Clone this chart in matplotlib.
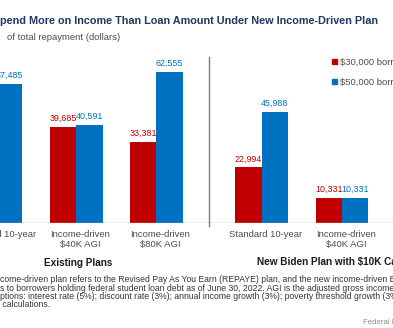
import numpy as np
import matplotlib.pyplot as plt
from matplotlib.patches import Patch

plt.rcParams['font.family'] = ['Liberation Sans', 'DejaVu Sans']

# values (dollars)
plans = ['Standard 10-year', 'Income-driven\n$40K AGI', 'Income-driven\n$80K AGI',
         'Standard 10-year', 'Income-driven\n$40K AGI']
pos = np.array([0, 1, 2, 3.317, 4.32])
borrower_30k = [34491, 39685, 33381, 22994, 10331]
borrower_50k = [57485, 40591, 62555, 45988, 10331]
series_names = ['$30,000 borrower', '$50,000 borrower']

red = '#c00000'
blue = '#0070c0'

W, H = 393, 328
fig = plt.figure(figsize=(W / 100, H / 100), dpi=100)

def fx(px):
    return px / W

def fy(py):
    return 1 - py / H

# axes fills the full width, baseline at y=223px
ax = fig.add_axes([0, fy(223), 1, (223 - 50) / H])
ax.set_xlim(0.0745, 4.956)
ax.set_ylim(0, 173 / 151 * 62555)

w = 0.33
b1 = ax.bar(pos - w / 2, borrower_30k, w, color=red, label=series_names[0])
b2 = ax.bar(pos + w / 2, borrower_50k, w, color=blue, label=series_names[1])
ax.bar_label(b1, fmt='{:,.0f}', padding=3, color=red, fontsize=6.4)
ax.bar_label(b2, fmt='{:,.0f}', padding=3, color=blue, fontsize=6.4)

ax.axhline(0, color='#a6a6a6', lw=1)
ax.axvline(2.658, ymin=-0.02, ymax=0.96, color='#7f7f7f', lw=1, clip_on=False)

for s in ax.spines.values():
    s.set_visible(False)
ax.set_yticks([])
ax.set_xticks(pos + 0.05)
ax.set_xticklabels(plans, fontsize=6.8, color='#4d4d4d')
ax.tick_params(axis='x', length=0, pad=5)

fig.text(fx(78), fy(263), 'Existing Plans', ha='center', va='center',
         fontsize=7.2, fontweight='bold', color='#1a1a1a')
fig.text(fx(257), fy(262), 'New Biden Plan with $10K Cancellation', ha='left', va='center',
         fontsize=7.2, fontweight='bold', color='#1a1a1a')

leg = fig.legend(handles=[Patch(color=red, label=series_names[0]),
                          Patch(color=blue, label=series_names[1])],
                 loc='upper left', bbox_to_anchor=(fx(328), fy(54)), frameon=False,
                 fontsize=6.8, handlelength=0.5, handleheight=0.5, handletextpad=0.4,
                 labelspacing=1.2, borderaxespad=0, labelcolor='#4d4d4d')

fig.text(0, fy(21), 'pend More on Income Than Loan Amount Under New Income-Driven Plan',
         ha='left', va='center', fontsize=7.8, fontweight='bold', color='#1f3864')
fig.text(fx(7), fy(38), 'of total repayment (dollars)', ha='left', va='center',
         fontsize=6.8, color='#4d4d4d')

notes = ['come-driven plan refers to the Revised Pay As You Earn (REPAYE) plan, and the new income-driven Biden plan',
         's to borrowers holding federal student loan debt as of June 30, 2022. AGI is the adjusted gross income which',
         'ptions: interest rate (5%); discount rate (3%); annual income growth (3%); poverty threshold growth (3%);',
         ' calculations.']
for i, line in enumerate(notes):
    fig.text(0, fy(280 + 8.2 * i), line, ha='left', va='center', fontsize=6.2, color='#333333')

fig.text(fx(363), fy(322), 'Federal Reserve Bank', ha='left', va='center',
         fontsize=5.6, color='#8c8c8c')

fig.savefig('out.png', dpi=100)
